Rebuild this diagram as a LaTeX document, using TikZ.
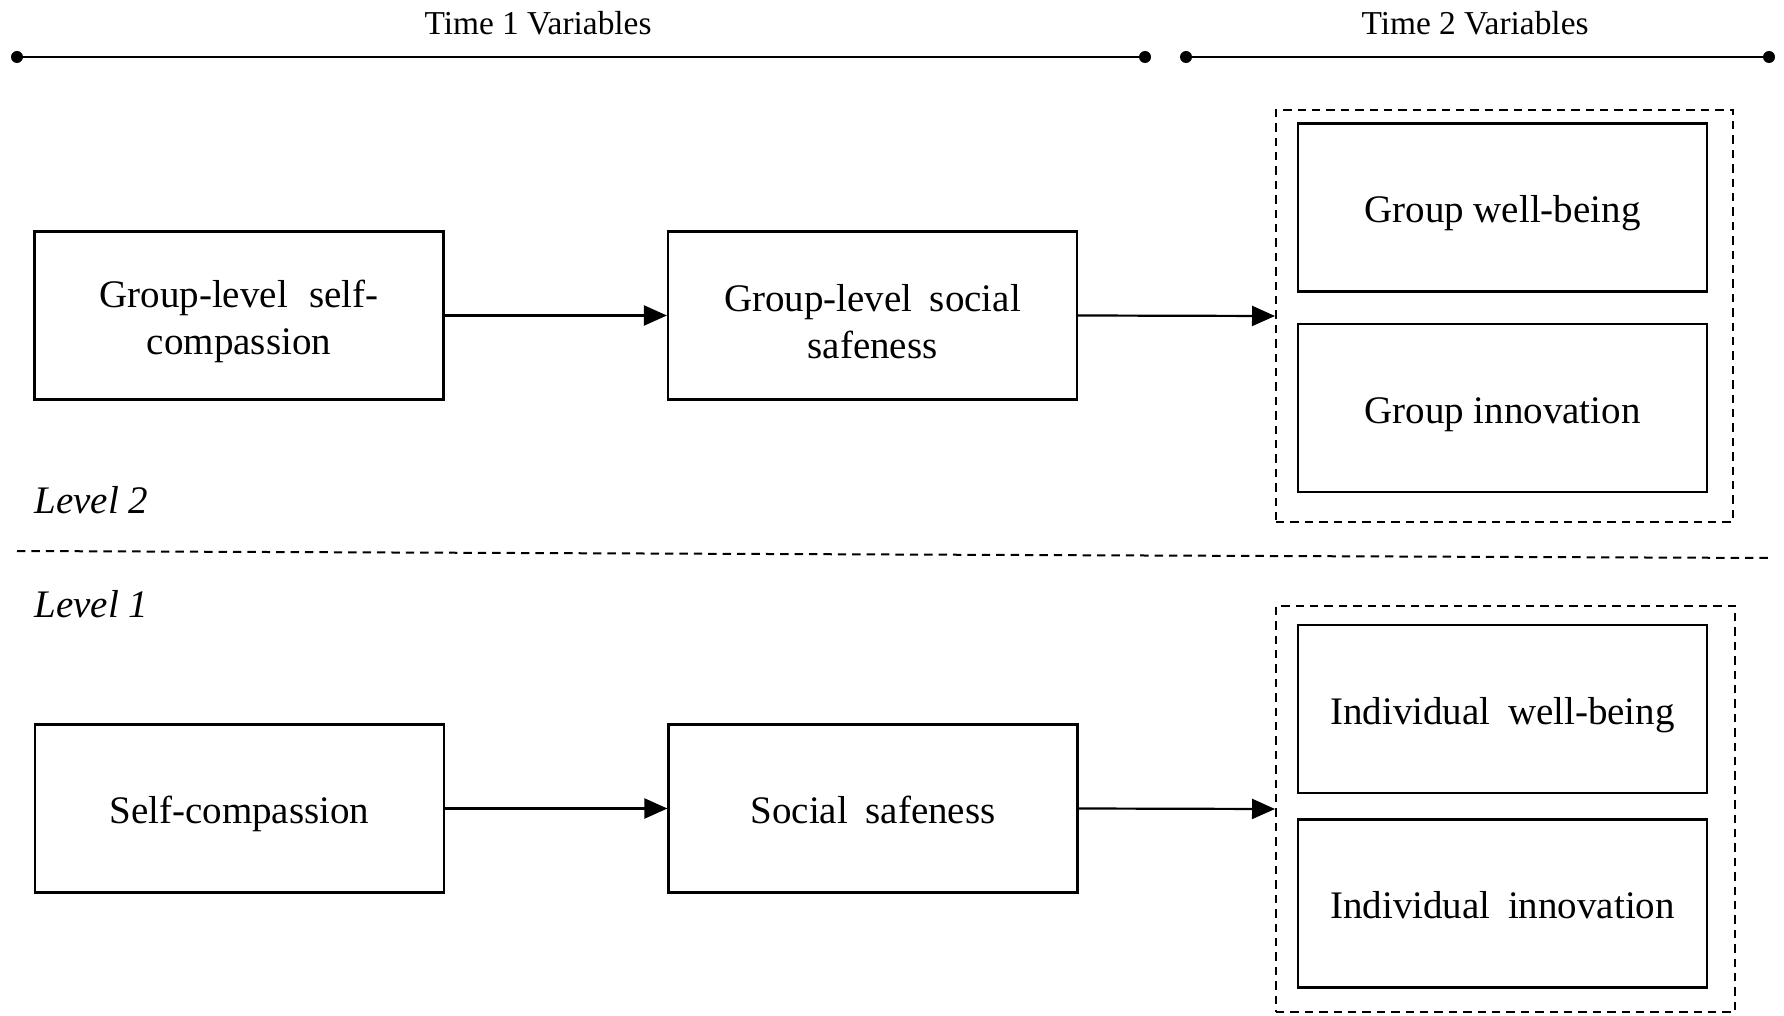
\documentclass[tikz,border=0pt]{standalone}
\usepackage{fontspec}
\setmainfont{Liberation Serif}
\usetikzlibrary{arrows.meta}
\begin{document}
\begin{tikzpicture}[x=0.5pt,y=-0.5pt,
  basebox/.style={draw, line width=1.1pt, minimum width=204.5pt, minimum height=84pt, align=center, inner sep=0pt,
    font=\fontsize{19.5}{23.4}\selectfont},
  box/.style={basebox, text height=19.5pt, text depth=4.2pt},
  twobox/.style={basebox},
  dbox/.style={draw, line width=1pt, dash pattern=on 4.2pt off 3pt, inner sep=0pt},
  arr/.style={line width=1.1pt, -{Triangle[length=11.5pt,width=10pt]}},
  tl/.style={line width=0.8pt},
  dot/.style={circle, fill=black, inner sep=0pt, minimum size=6pt},
  lbl/.style={font=\fontsize{16.7}{19}\selectfont, inner sep=0pt},
  lvl/.style={font=\fontsize{19.5}{23.4}\selectfont\itshape, inner sep=0pt, anchor=west}
]
\useasboundingbox (0,0) rectangle (1784,1016);

% time axes
\node[dot] (t1a) at (17,57) {};
\node[dot] (t1b) at (1145,57) {};
\node[dot] (t2a) at (1186,57) {};
\node[dot] (t2b) at (1769,57) {};
\draw[tl] (t1a) -- (t1b);
\draw[tl] (t2a) -- (t2b);
\node[lbl] (time1) at (538,23) {Time 1 Variables};
\node[lbl] (time2) at (1475,23) {Time 2 Variables};

% level 2
\node[twobox] (gsc) at (239,315.5) {\rule{0pt}{20pt}Group-level\hspace{0.55em}self-\\compassion};
\node[twobox] (gss) at (872.5,315.5) {\rule{0pt}{20pt}Group-level\hspace{0.45em}social\\safeness};
\node[dbox, minimum width=228.5pt, minimum height=206pt] (gout) at (1504.5,316) {};
\node[box] (gwb) at (1502.5,207.5) {Group well-being};
\node[box] (gin) at (1502.5,408) {Group innovation};
\draw[arr] (gsc.east) -- (gss.west);
\draw[arr] (gss.east) -- (gout.west);
\node[lvl] (lv2) at (34,500) {Level 2};

% separator
\coordinate (sepL) at (17,551);
\coordinate (sepR) at (1771,558);
\draw[line width=1pt, dash pattern=on 4.2pt off 3pt] (sepL) -- (sepR);

% level 1
\node[lvl] (lv1) at (34,604) {Level 1};
\node[box] (sc) at (239.5,808.5) {Self-compassion};
\node[box] (ss) at (873,808.5) {Social\hspace{0.45em}safeness};
\node[dbox, minimum width=229.5pt, minimum height=203pt] (iout) at (1505.5,809) {};
\node[box] (iwb) at (1502.5,709) {Individual\hspace{0.45em}well-being};
\node[box] (iin) at (1502.5,903.5) {Individual\hspace{0.45em}innovation};
\draw[arr] (sc.east) -- (ss.west);
\draw[arr] (ss.east) -- (iout.west);
\end{tikzpicture}
\end{document}
